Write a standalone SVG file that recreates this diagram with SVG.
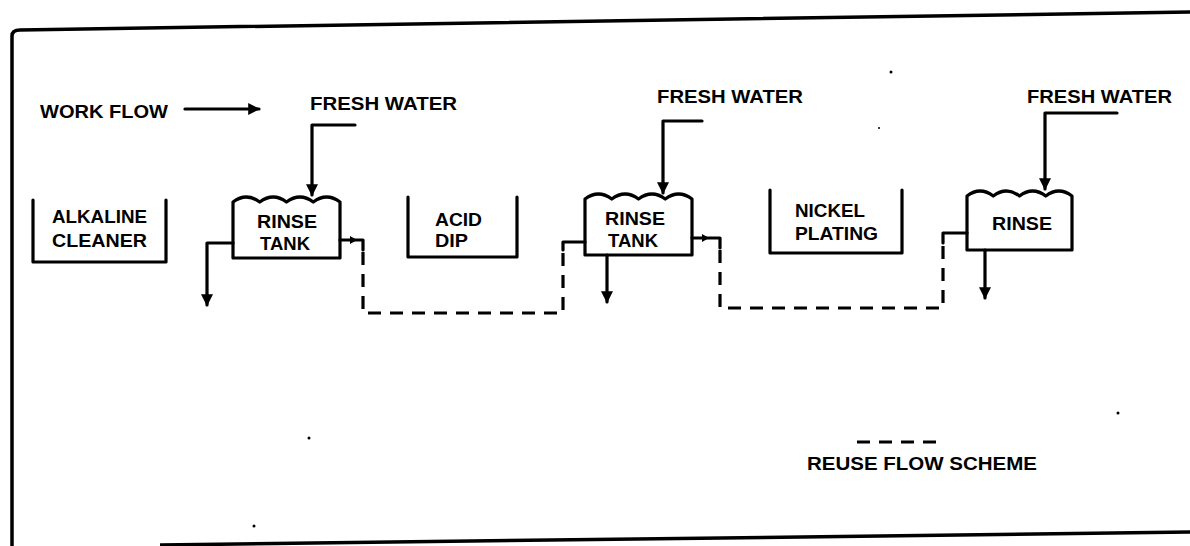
<svg xmlns="http://www.w3.org/2000/svg" width="1190" height="546" viewBox="0 0 1190 546">
<style>
.t{font-family:"Liberation Sans",Arial,sans-serif;font-weight:bold;font-size:18px;fill:#000}
.s{fill:none;stroke:#000;stroke-width:3.2;stroke-linejoin:round;stroke-linecap:round}
.d{fill:none;stroke:#000;stroke-width:3.2;stroke-dasharray:13 9}
.b{fill:none;stroke:#000;stroke-width:3.5}
</style>
<defs>
<marker id="ah" viewBox="0 0 10 10" refX="9" refY="5" markerWidth="14" markerHeight="12" markerUnits="userSpaceOnUse" orient="auto">
<path d="M0,0 L10,5 L0,10 Z" fill="#000"/>
</marker>
</defs>
<rect width="1190" height="546" fill="#fff"/>
<g id="frame">
<path class="b" d="M12,546 V36 Q12,30 20,30 L1190,12"/>
<path class="b" d="M160,545 L1190,532"/>
<circle cx="891" cy="72" r="1.5"/>
<circle cx="879" cy="128" r="1"/>
<circle cx="1118" cy="413" r="1.5"/>
<circle cx="309" cy="438" r="1.5"/>
<circle cx="254" cy="526" r="1.5"/>
</g>
<g id="workflow">
<text class="t" x="40" y="118" font-size="19" textLength="128" lengthAdjust="spacingAndGlyphs">WORK FLOW</text>
<path class="s" d="M185,109 H259" marker-end="url(#ah)"/>
</g>
<g id="alkaline">
<path class="s" d="M33,200 V262 H166 V200"/>
<text class="t" x="52" y="223" textLength="95" lengthAdjust="spacingAndGlyphs">ALKALINE</text>
<text class="t" x="52" y="247" textLength="95" lengthAdjust="spacingAndGlyphs">CLEANER</text>
</g>
<g id="rinse1">
<path class="s" d="M233,258 V202 q13.4,-10 26.75,0 q13.4,-10 26.75,0 q13.4,-10 26.75,0 q13.4,-10 26.75,0 V258 Z"/>
<text class="t" x="257" y="228" textLength="60" lengthAdjust="spacingAndGlyphs">RINSE</text>
<text class="t" x="260" y="250" textLength="50" lengthAdjust="spacingAndGlyphs">TANK</text>
</g>
<g id="acid">
<path class="s" d="M408,197 V257 H517 V197"/>
<text class="t" x="435" y="226" textLength="47" lengthAdjust="spacingAndGlyphs">ACID</text>
<text class="t" x="435" y="247" textLength="33" lengthAdjust="spacingAndGlyphs">DIP</text>
</g>
<g id="rinse2">
<path class="s" d="M585,255 V199 q13.4,-10 26.75,0 q13.4,-10 26.75,0 q13.4,-10 26.75,0 q13.4,-10 26.75,0 V255 Z"/>
<text class="t" x="605" y="225" textLength="60" lengthAdjust="spacingAndGlyphs">RINSE</text>
<text class="t" x="608" y="247" textLength="50" lengthAdjust="spacingAndGlyphs">TANK</text>
</g>
<g id="nickel">
<path class="s" d="M770,190 V253 H902 V190"/>
<text class="t" x="795" y="217" textLength="70" lengthAdjust="spacingAndGlyphs">NICKEL</text>
<text class="t" x="795" y="240" textLength="83" lengthAdjust="spacingAndGlyphs">PLATING</text>
</g>
<g id="rinse3">
<path class="s" d="M967,250 V196 q13.1,-10 26.25,0 q13.1,-10 26.25,0 q13.1,-10 26.25,0 q13.1,-10 26.25,0 V250 Z"/>
<text class="t" x="992" y="230" textLength="60" lengthAdjust="spacingAndGlyphs">RINSE</text>
</g>
<g id="fresh1">
<text class="t" x="310" y="110" font-size="19" textLength="147" lengthAdjust="spacingAndGlyphs">FRESH WATER</text>
</g>
<g id="fresh2">
<text class="t" x="657" y="103" font-size="19" textLength="146" lengthAdjust="spacingAndGlyphs">FRESH WATER</text>
</g>
<g id="fresh3">
<text class="t" x="1027" y="103" font-size="19" textLength="145" lengthAdjust="spacingAndGlyphs">FRESH WATER</text>
</g>
<g id="legend">
<path class="d" d="M857,442 H942" stroke-dasharray="16 7"/>
<text class="t" x="807" y="470" textLength="230" lengthAdjust="spacingAndGlyphs">REUSE FLOW SCHEME</text>
</g>
<g id="connectors">
<path class="s" d="M355,125 H312 V195" marker-end="url(#ah)"/>
<path class="s" d="M702,121 H663 V193" marker-end="url(#ah)"/>
<path class="s" d="M1117,113 H1045 V189" marker-end="url(#ah)"/>
<path class="s" d="M233,243 H207 V305" marker-end="url(#ah)"/>
<path class="s" d="M607,255 V302" marker-end="url(#ah)"/>
<path class="s" d="M985,250 V298" marker-end="url(#ah)"/>
<path class="s" d="M340,240 H363 V250"/>
<path d="M350,236 L357,240 L350,244 Z"/>
<path class="d" d="M363,252 V313 H563 V250"/>
<path class="s" d="M563,250 V242 H585"/>
<path class="s" d="M692,238 H720 V248"/>
<path d="M702,234 L709,238 L702,242 Z"/>
<path class="d" d="M720,250 V308 H943 V243"/>
<path class="s" d="M943,243 V233 H967"/>
</g>
</svg>
